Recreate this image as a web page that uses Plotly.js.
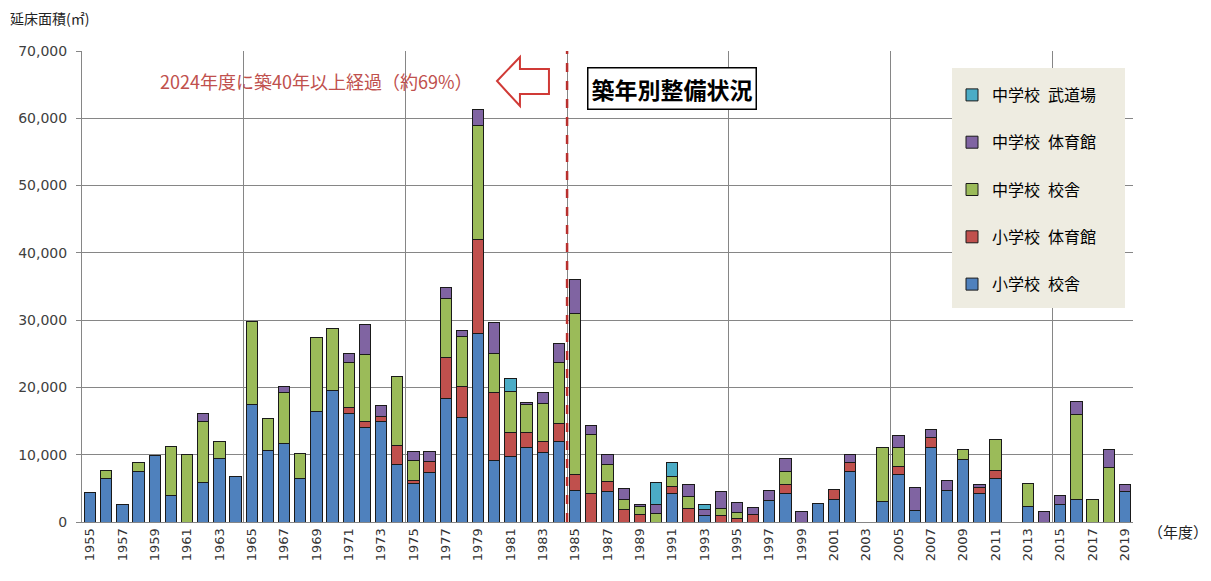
<!DOCTYPE html>
<html><head><meta charset="utf-8">
<script src="https://cdn.plot.ly/plotly-3.0.1.min.js"></script>
<style>html,body{margin:0;padding:0;background:#fff;}#chart{width:1211px;height:581px;}</style>
</head><body><div id="chart"></div>
<script>
const years = [1955,1956,1957,1958,1959,1960,1961,1962,1963,1964,1965,1966,1967,1968,1969,1970,1971,1972,1973,1974,1975,1976,1977,1978,1979,1980,1981,1982,1983,1984,1985,1986,1987,1988,1989,1990,1991,1992,1993,1994,1995,1996,1997,1998,1999,2000,2001,2002,2003,2004,2005,2006,2007,2008,2009,2010,2011,2012,2013,2014,2015,2016,2017,2018,2019];
const tickYears = [1955,1957,1959,1961,1963,1965,1967,1969,1971,1973,1975,1977,1979,1981,1983,1985,1987,1989,1991,1993,1995,1997,1999,2001,2003,2005,2007,2009,2011,2013,2015,2017,2019];

// 小学校 校舎
const elemBuilding = [4400,6500,2600,7500,9900,3900,0,5900,9400,6800,17400,10600,11700,6500,16400,19500,16100,14100,15000,8600,5700,7300,18300,15600,28000,9100,9700,11000,10400,12000,4700,0,4600,0,0,0,4300,0,1000,0,0,0,3150,4300,0,2700,3300,7500,0,3100,7000,1700,11000,4650,9250,4300,6400,0,2350,0,2600,3400,0,0,4600];
// 小学校 体育館
const elemGym = [0,0,0,0,0,0,0,0,0,0,0,0,0,0,0,0,900,900,700,2700,400,1700,6200,4600,14000,10100,3600,2300,1600,2700,2300,4300,1400,1800,1050,0,1000,2050,0,950,550,1150,0,1200,0,0,1500,1400,0,0,1300,0,1500,0,0,800,1200,0,0,0,0,0,0,0,0];
// 中学校 校舎
const juniorBuilding = [0,1100,0,1300,0,7300,10100,9100,2600,0,12400,4800,7600,3700,11000,9200,6700,9900,0,10300,3100,0,8700,7400,16900,5800,6100,4200,5600,9000,24000,8700,2500,1500,1250,1300,1500,1750,0,1100,900,0,0,2000,0,0,0,0,0,8000,2700,0,0,0,1500,0,4700,0,3400,0,0,12600,3400,8100,0];
// 中学校 体育館
const juniorGym = [0,0,0,0,0,0,0,1200,0,0,0,0,800,0,0,0,1300,4400,1600,0,1300,1500,1600,900,2400,4700,0,200,1600,2900,5100,1300,1500,1700,300,1350,0,1700,800,2450,1500,1000,1600,2000,1550,0,0,1100,0,0,1900,3500,1300,1450,0,400,0,0,0,1500,1300,1900,0,2650,900];
// 中学校 武道場
const juniorDojo = [0,0,0,0,0,0,0,0,0,0,0,0,0,0,0,0,0,0,0,0,0,0,0,0,0,0,1900,0,0,0,0,0,0,0,0,3150,2100,0,850,0,0,0,0,0,0,0,0,0,0,0,0,0,0,0,0,0,0,0,0,0,0,0,0,0,0];

const seriesNames = ['小学校\u2002校舎','小学校\u2002体育館','中学校\u2002校舎','中学校\u2002体育館','中学校\u2002武道場'];
const seriesData = [elemBuilding, elemGym, juniorBuilding, juniorGym, juniorDojo];
const seriesColors = ['#4F81BD','#C0504D','#9BBB59','#8064A2','#4BACC6'];
const yTicks = [0,10000,20000,30000,40000,50000,60000,70000];
const boundaryYear = 1984.5;

const traces = seriesNames.map((n,i)=>({
  type:'bar', name:n, x:years, y:seriesData[i].map(v=>v||null),
  legendgroup:'g'+i, legendrank:100-i,
  marker:{color:seriesColors[i], line:{color:'#1a1a1a', width:1}},
  hoverinfo:'x+y+name'
}));

// pixel -> paper helpers for decorations
const L=82, R=1133, T=51, B=522;
const px=x=>(x-L)/(R-L), py=y=>(B-y)/(B-T);
const arrowPts=[[497,81],[520,57],[520,69],[549,69],[549,94],[520,94],[520,106]];
const arrowPath='M'+arrowPts.map(p=>px(p[0]).toFixed(4)+','+py(p[1]).toFixed(4)).join(' L')+' Z';

const cjk = '"Noto Sans CJK JP", "Noto Sans", sans-serif';
const layout = {
  width:1211, height:581,
  margin:{l:L, r:1211-R, t:T, b:581-B, pad:0},
  paper_bgcolor:'#fff', plot_bgcolor:'#fff',
  barmode:'stack', bargap:0.3,
  font:{family:'"DejaVu Sans", sans-serif', color:'#404040'},
  xaxis:{type:'linear', range:[1954.5,2019.5], tickvals:tickYears, ticktext:tickYears.map(String),
    tickangle:-90, tickfont:{size:13, color:'#333'}, showgrid:false, zeroline:false,
    showline:true, linecolor:'#868686', linewidth:1, ticks:'', fixedrange:true,
    minor:{tick0:1954.5, dtick:10, showgrid:true, gridcolor:'#868686', gridwidth:1, ticks:''}},
  yaxis:{range:[0,70000], tickvals:yTicks, ticktext:yTicks.map(v=>v.toLocaleString('en-US')),
    tickfont:{size:14, color:'#404040'}, showgrid:true, gridcolor:'#868686', gridwidth:1,
    zeroline:false, showline:true, linecolor:'#868686', ticks:'outside', ticklen:5, tickcolor:'#868686',
    ticklabelstandoff:6},
  showlegend:true,
  legend:{x:px(952), y:py(78), xanchor:'left', yanchor:'top', bgcolor:'rgba(0,0,0,0)',
    traceorder:'grouped', tracegroupgap:23.5, font:{family:cjk, size:16, color:'#000'}, itemwidth:30},
  shapes:[
    {type:'rect', xref:'paper', yref:'paper', x0:px(952), x1:px(1125), y0:py(308), y1:py(68),
      fillcolor:'#EEECE1', line:{width:0}, layer:'above'},
    {type:'line', xref:'x', yref:'paper', x0:boundaryYear, x1:boundaryYear, y0:0, y1:1,
      line:{color:'#B8302E', width:2.5, dash:'dash'}, layer:'above'},
    {type:'path', xref:'paper', yref:'paper', path:arrowPath, fillcolor:'#fff',
      line:{color:'#D03A36', width:2}, layer:'above'}
  ],
  annotations:[
    {xref:'paper', yref:'paper', x:px(8), y:py(18), xanchor:'left', yanchor:'middle', showarrow:false,
      text:'延床面積(㎡)', font:{family:cjk, size:14, color:'#222'}},
    {xref:'paper', yref:'paper', x:px(1146), y:py(531), xanchor:'left', yanchor:'middle', showarrow:false,
      text:'（年度）', font:{family:cjk, size:15, color:'#222'}},
    {xref:'paper', yref:'paper', x:px(316), y:py(81), xanchor:'center', yanchor:'middle', showarrow:false,
      text:'2024年度に築40年以上経過（約69%）', font:{family:cjk, size:18, color:'#C0504D'}},
    {xref:'paper', yref:'paper', x:px(672), y:py(88), xanchor:'center', yanchor:'middle', showarrow:false,
      text:'<b>築年別整備状況</b>', font:{family:cjk, size:23, color:'#000'},
      bordercolor:'#000', borderwidth:1.5, borderpad:3, bgcolor:'#fff'}
  ]
};
Plotly.newPlot('chart', traces, layout, {displayModeBar:false, staticPlot:true});
</script></body></html>
